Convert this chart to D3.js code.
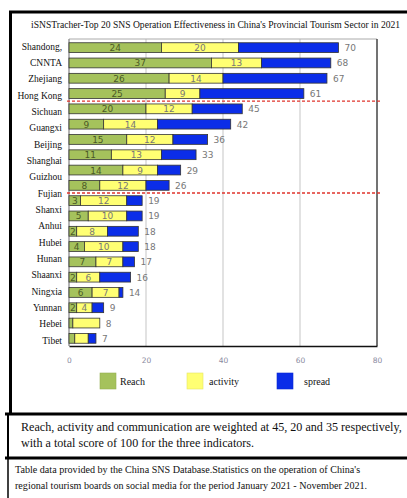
<!DOCTYPE html>
<html>
<head>
<meta charset="utf-8">
<script src="https://cdn.jsdelivr.net/npm/d3@7"></script>
<style>
  html, body { margin: 0; padding: 0; background: #fff; }
  svg { display: block; }
</style>
</head>
<body>
<div id="chart"></div>
<script>
// row labels down the left side (19 names for 20 bars, as in the source)
const regions = ['Shandong,', 'CNNTA', 'Zhejiang', 'Hong Kong', 'Sichuan', 'Guangxi', 'Beijing',
  'Shanghai', 'Guizhou', 'Fujian', 'Shanxi', 'Anhui', 'Hubei', 'Hunan', 'Shaanxi', 'Ningxia',
  'Yunnan', 'Hebei', 'Tibet'];

// one entry per bar
const reach    = [24, 37, 26, 25, 20, 9, 15, 11, 14, 8, 3, 5, 2, 4, 7, 2, 6, 2, 1, 1.5];
const activity = [20, 13, 14, 9, 12, 14, 12, 13, 9, 12, 12, 10, 8, 10, 7, 6, 7, 4, 7, 3.5];
const totals   = [70, 68, 67, 61, 45, 42, 36, 33, 29, 26, 19, 19, 18, 18, 17, 16, 14, 9, 8, 7];
// inner value labels are only printed on the first 18 bars
const labelled = 18;
// red dashed separators sit after these bar indexes
const cutAfter = [3, 9];

const xTicks = [0, 20, 40, 60, 80];
const seriesNames = ['Reach', 'activity', 'spread'];
const colors = ['#a5c25c', '#ffff73', '#0b2de8'];

const W = 407, H = 498;
const svg = d3.select('#chart').append('svg').attr('width', W).attr('height', H);

const serif = '"Liberation Serif", "DejaVu Serif", serif';
const sans = '"DejaVu Sans", Arial, sans-serif';

// --- frame lines
const frame = svg.append('g').attr('stroke', '#000').attr('fill', 'none');
frame.append('line').attr('x1', 9).attr('x2', W).attr('y1', 12).attr('y2', 12).attr('stroke-width', 3);
frame.append('line').attr('x1', 10.5).attr('x2', 10.5).attr('y1', 11).attr('y2', 414).attr('stroke-width', 3);
frame.append('line').attr('x1', 5).attr('x2', W).attr('y1', 414).attr('y2', 414).attr('stroke-width', 3);
frame.append('line').attr('x1', 8).attr('x2', 8).attr('y1', 414).attr('y2', 458).attr('stroke-width', 2);
frame.append('line').attr('x1', 5).attr('x2', W).attr('y1', 458).attr('y2', 458).attr('stroke-width', 3);
frame.append('line').attr('x1', 8).attr('x2', 8).attr('y1', 458).attr('y2', H).attr('stroke-width', 1.5);

// --- title
svg.append('text').attr('x', 31).attr('y', 28)
  .attr('font-family', serif).attr('font-size', 9.6).attr('fill', '#111')
  .text("iSNSTracher-Top 20 SNS Operation Effectiveness in China's Provincial Tourism Sector in 2021");

// --- plot
const plot = { left: 69, right: 377, top: 39, bottom: 346 };
const x = d3.scaleLinear().domain([0, 80]).range([plot.left, plot.right]);
const y = d3.scaleBand().domain(d3.range(totals.length)).range([plot.top + 1, plot.bottom]).paddingInner(0.36).paddingOuter(0.18);
const yLabel = d3.scalePoint().domain(regions).range([46, 340]);

// gridlines
svg.append('g').selectAll('line').data(xTicks.slice(1, -1)).join('line')
  .attr('x1', d => x(d)).attr('x2', d => x(d))
  .attr('y1', plot.top).attr('y2', plot.bottom)
  .attr('stroke', '#d9d9d9').attr('stroke-width', 1.5);

// plot borders
svg.append('line').attr('x1', plot.left).attr('x2', plot.right).attr('y1', plot.top).attr('y2', plot.top)
  .attr('stroke', '#aaa').attr('stroke-width', 1);
svg.append('line').attr('x1', plot.left).attr('x2', plot.left).attr('y1', plot.top).attr('y2', plot.bottom)
  .attr('stroke', '#999').attr('stroke-width', 1.5);
svg.append('line').attr('x1', plot.right).attr('x2', plot.right).attr('y1', plot.top).attr('y2', plot.bottom)
  .attr('stroke', '#444').attr('stroke-width', 1.5);

// x axis
const xAxis = svg.append('g').attr('transform', `translate(0,${plot.bottom})`)
  .call(d3.axisBottom(x).tickValues(xTicks).tickSize(0).tickPadding(12));
xAxis.select('.domain').attr('stroke', '#111').attr('stroke-width', 1.5);
xAxis.selectAll('text').attr('font-family', sans).attr('font-size', 7.5).attr('fill', '#8a8aa0');

// stacked bars
const rows = totals.map((t, i) => ({ i, vals: [reach[i], activity[i], t - reach[i] - activity[i]], total: t }));
const segs = rows.flatMap(r => {
  let acc = 0;
  return r.vals.map((v, k) => { const s = { i: r.i, k, v, x0: acc, x1: acc + v }; acc += v; return s; });
});

svg.append('g').selectAll('rect').data(segs.filter(s => s.v > 0)).join('rect')
  .attr('x', d => x(d.x0)).attr('y', d => y(d.i))
  .attr('width', d => x(d.x1) - x(d.x0)).attr('height', y.bandwidth())
  .attr('fill', d => colors[d.k]).attr('stroke', '#333').attr('stroke-width', 0.8);

// values inside the green and yellow segments
svg.append('g').selectAll('text').data(segs.filter(s => s.k < 2 && s.i < labelled)).join('text')
  .attr('x', d => x((d.x0 + d.x1) / 2)).attr('y', d => y(d.i) + y.bandwidth() / 2 + 3.5)
  .attr('text-anchor', 'middle').attr('font-family', sans).attr('font-size', 9)
  .attr('fill', d => d.k === 0 ? '#4b5a26' : '#777')
  .text(d => d.v);

// totals at bar ends
svg.append('g').selectAll('text').data(rows).join('text')
  .attr('x', d => x(d.total) + 6).attr('y', d => y(d.i) + y.bandwidth() / 2 + 3.5)
  .attr('font-family', sans).attr('font-size', 9).attr('fill', '#777')
  .text(d => d.total);

// red dashed separators
svg.append('g').selectAll('line').data(cutAfter).join('line')
  .attr('x1', plot.left - 2).attr('x2', plot.right + 4)
  .attr('y1', d => (y(d) + y.bandwidth() + y(d + 1)) / 2)
  .attr('y2', d => (y(d) + y.bandwidth() + y(d + 1)) / 2)
  .attr('stroke', '#e0342c').attr('stroke-width', 1.3).attr('stroke-dasharray', '3,2');

// region labels
svg.append('g').selectAll('text').data(regions).join('text')
  .attr('x', 62).attr('y', d => yLabel(d) + 3.5)
  .attr('text-anchor', 'end').attr('font-family', serif).attr('font-size', 9.5).attr('fill', '#111')
  .text(d => d);

// legend
const legendX = [100, 187, 277];
const legend = svg.append('g').selectAll('g').data(seriesNames).join('g')
  .attr('transform', (d, i) => `translate(${legendX[i]},373)`);
legend.append('rect').attr('width', 16).attr('height', 16).attr('fill', (d, i) => colors[i])
  .attr('stroke', (d, i) => d3.color(colors[i]).darker(0.3)).attr('stroke-width', 0.6);
legend.append('text').attr('x', (d, i) => [20, 22, 27][i]).attr('y', 12)
  .attr('font-family', serif).attr('font-size', 10).attr('fill', '#111')
  .text(d => d);

// notes
const note1 = ['Reach, activity and communication are weighted at 45, 20 and 35 respectively,',
  'with a total score of 100 for the three indicators.'];
svg.append('g').selectAll('text').data(note1).join('text')
  .attr('x', 21).attr('y', (d, i) => 431 + i * 16)
  .attr('font-family', serif).attr('font-size', 12.1).attr('fill', '#111')
  .text(d => d);

const note2 = ["Table data provided by the China SNS Database.Statistics on the operation of China's",
  'regional tourism boards on social media for the period January 2021 - November 2021.'];
svg.append('g').selectAll('text').data(note2).join('text')
  .attr('x', 15).attr('y', (d, i) => 473 + i * 16)
  .attr('font-family', serif).attr('font-size', 10.1).attr('fill', '#111')
  .text(d => d);
</script>
</body>
</html>
